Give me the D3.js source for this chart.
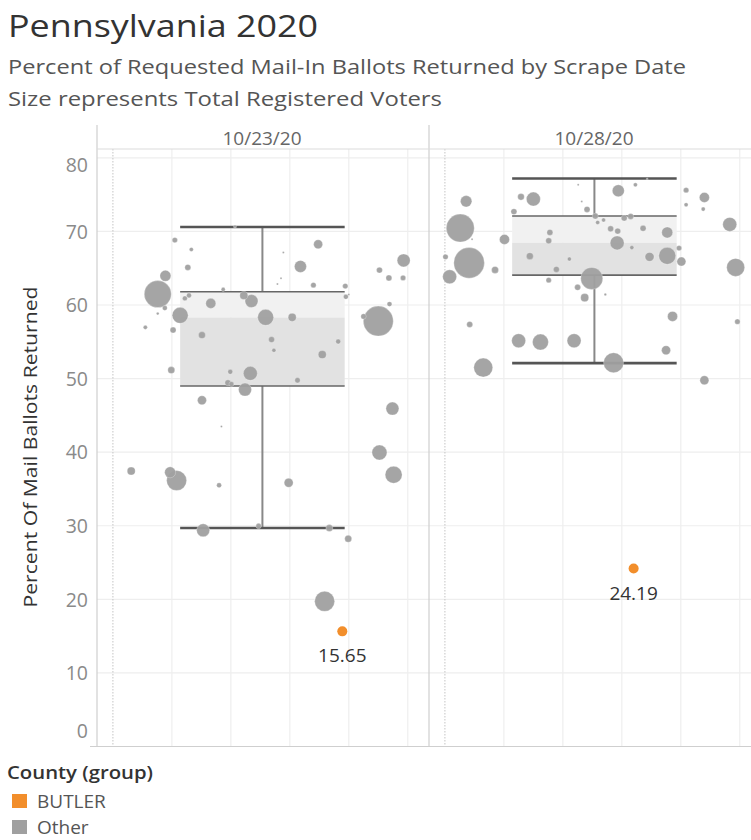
<!DOCTYPE html>
<html><head><meta charset="utf-8">
<script src="https://cdn.jsdelivr.net/npm/d3@7"></script>
<style>body{margin:0;background:#fff}svg{display:block}</style>
</head><body><svg id="c" width="751" height="840"></svg>
<script>
const scrapeDates = ["10/23/20", "10/28/20"];
const yTicks = [0, 10, 20, 30, 40, 50, 60, 70, 80];
const groups = ["BUTLER", "Other"];
const groupColors = ["#f28e2b", "#a0a0a0"];
// [jitter position, percent returned, registered voters (thousands)]
const other1023 = [[0.76,61.48,712],[0.89,63.97,118],[1.05,68.82,28],[1.33,67.55,16],[1.27,65.11,35],[1.14,58.59,250],[1.02,56.59,35],[0.55,56.96,16],[0.76,58.83,7],[0.88,59.58,24],[1.22,60.9,24],[1.29,61.3,24],[1.66,60.22,98],[1.51,55.91,48],[1.87,62.12,16],[2.07,70.65,9],[2.22,61.3,63],[2.35,60.53,165],[2.59,58.32,250],[2.69,55.3,35],[2.73,53.85,16],[2.89,67.12,4],[2.85,63.63,4],[2.79,62.84,4],[3.18,65.24,141],[3.48,68.25,79],[3.04,58.32,63],[3.40,62.7,28],[3.94,62.57,28],[3.95,61.11,24],[4.0,61.44,4],[3.82,55.03,24],[3.55,53.26,63],[3.13,49.77,28],[2.33,50.71,191],[2.24,48.5,165],[1.99,50.92,24],[1.95,49.43,35],[2.01,49.25,24],[1.51,47.05,79],[1.84,43.48,4],[0.99,51.15,48],[4.52,64.74,35],[4.68,63.68,35],[4.92,63.68,28],[4.93,66.06,165],[4.69,60.12,24],[4.50,57.81,879],[4.25,58.45,28],[4.74,45.92,165],[4.52,39.95,220],[4.76,36.93,282],[0.31,37.43,63],[0.97,37.26,118],[1.08,36.14,391],[1.80,35.49,24],[2.98,35.84,79],[1.53,29.38,165],[2.47,29.96,28],[3.67,29.69,48],[3.99,28.23,48],[3.59,19.73,391]];
const other1028 = [[0.36,74.09,127],[0.26,70.45,766],[0.46,68.95,4],[0.01,66.54,28],[0.41,65.73,915],[0.08,63.83,191],[0.85,64.77,48],[1.01,68.91,98],[1.29,74.7,43],[1.50,74.39,191],[1.17,72.69,35],[1.78,69.86,35],[1.76,68.72,35],[1.44,66.64,48],[2.11,66.24,16],[1.89,64.84,35],[1.76,63.38,28],[2.25,62.4,35],[2.37,61.0,63],[2.49,63.61,473],[2.72,61.44,6],[2.26,76.33,4],[2.32,74.05,4],[2.41,72.99,35],[2.94,75.52,141],[3.23,76.33,16],[2.55,72.08,35],[2.69,71.54,16],[2.59,71.22,16],[3.04,71.81,35],[3.15,72.04,35],[2.81,70.35,35],[2.93,70.04,35],[3.36,70.42,35],[3.77,69.86,118],[2.92,68.44,191],[3.17,67.8,16],[3.47,66.54,79],[3.77,66.68,282],[3.97,67.73,28],[4.01,65.9,79],[3.43,77.11,4],[4.09,75.61,28],[4.40,74.62,98],[4.09,73.61,16],[4.38,73.03,16],[4.83,70.95,191],[4.93,65.11,316],[3.86,58.45,98],[4.96,57.74,28],[3.75,53.85,79],[2.86,52.15,391],[4.40,49.77,79],[0.42,57.36,35],[1.25,55.14,191],[1.62,54.96,250],[2.19,55.14,191],[0.65,51.49,352]];
const butler = [[3.89,15.65,98],[3.20,24.19,98]];
// [lower whisker, q1, median, q3, upper whisker]
const boxStats = [[29.7,49.0,58.3,61.8,70.6],[52.1,64.06,68.45,72.1,77.2]];
const boxSpan = [1.14, 3.93];
const gridJitter = [1, 2, 3, 4, 5];

const otherByDate = [other1023, other1028];
const svg = d3.select("#c");
const F = "'Open Sans', 'Noto Sans', sans-serif";

const panelLeft = 97, panelW = 332, plotTop = 149, plotBottom = 746.5, headTop = 125;
const y = d3.scaleLinear().domain([0, 81.2]).range([plotBottom, plotTop]);
const x = d3.scaleLinear().domain([-0.27, 5.36]).range([0, panelW]);
const r = d3.scaleSqrt().domain([0, 1000]).range([0, 16]);

// titles
svg.append("text").attr("x", 8).attr("y", 37).attr("font-family", F).attr("font-size", 31)
  .attr("fill", "#333").attr("textLength", 310).attr("lengthAdjust", "spacingAndGlyphs").text("Pennsylvania 2020");
svg.append("text").attr("x", 8).attr("y", 74).attr("font-family", F).attr("font-size", 20.5)
  .attr("fill", "#555").attr("textLength", 678).attr("lengthAdjust", "spacingAndGlyphs")
  .text("Percent of Requested Mail-In Ballots Returned by Scrape Date");
svg.append("text").attr("x", 8).attr("y", 106).attr("font-family", F).attr("font-size", 20.5)
  .attr("fill", "#555").attr("textLength", 434).attr("lengthAdjust", "spacingAndGlyphs")
  .text("Size represents Total Registered Voters");

scrapeDates.forEach((date, i) => {
  const g = svg.append("g").attr("transform", `translate(${panelLeft + panelW * i},0)`);
  g.append("text").attr("x", panelW / 2 - 1).attr("y", 145).attr("text-anchor", "middle")
    .attr("font-family", F).attr("font-size", 19).attr("fill", "#666").text(date);
  // grid
  g.selectAll(".hg").data(yTicks.filter(v => v > 0)).join("line")
    .attr("x1", 0).attr("x2", panelW).attr("y1", d => y(d)).attr("y2", d => y(d))
    .attr("stroke", "#eeeeee").attr("stroke-width", 1.2);
  g.selectAll(".vg").data(gridJitter).join("line")
    .attr("x1", d => x(d)).attr("x2", d => x(d)).attr("y1", plotTop).attr("y2", plotBottom)
    .attr("stroke", "#eeeeee").attr("stroke-width", 1.2);
  g.append("line").attr("x1", x(0)).attr("x2", x(0)).attr("y1", plotTop).attr("y2", plotBottom)
    .attr("stroke", "#c4c4c4").attr("stroke-dasharray", "1.5,1.5");
  // box
  const [lw, q1, med, q3, uw] = boxStats[i];
  const bx0 = x(boxSpan[0]), bx1 = x(boxSpan[1]), bc = (bx0 + bx1) / 2;
  g.append("rect").attr("x", bx0).attr("width", bx1 - bx0).attr("y", y(q3)).attr("height", y(med) - y(q3)).attr("fill", "#f1f1f1");
  g.append("rect").attr("x", bx0).attr("width", bx1 - bx0).attr("y", y(med)).attr("height", y(q1) - y(med)).attr("fill", "#e2e2e2");
  g.append("line").attr("x1", bc).attr("x2", bc).attr("y1", y(uw)).attr("y2", y(q3)).attr("stroke", "#888").attr("stroke-width", 2);
  g.append("line").attr("x1", bc).attr("x2", bc).attr("y1", y(q1)).attr("y2", y(lw)).attr("stroke", "#888").attr("stroke-width", 2);
  [q1, q3].forEach(v => g.append("line").attr("x1", bx0).attr("x2", bx1).attr("y1", y(v)).attr("y2", y(v)).attr("stroke", "#666").attr("stroke-width", 1.6));
  [lw, uw].forEach(v => g.append("line").attr("x1", bx0).attr("x2", bx1).attr("y1", y(v)).attr("y2", y(v)).attr("stroke", "#555").attr("stroke-width", 2.6));
  // points
  const pts = otherByDate[i].slice().sort((a, b) => b[2] - a[2]);
  g.selectAll(".pt").data(pts).join("circle")
    .attr("cx", d => x(d[0])).attr("cy", d => y(d[1])).attr("r", d => r(d[2]))
    .attr("fill", groupColors[1]).attr("fill-opacity", 0.95)
    .attr("stroke", "#fff").attr("stroke-opacity", 0.45).attr("stroke-width", 0.6);
  const b = butler[i];
  g.append("circle").attr("cx", x(b[0])).attr("cy", y(b[1])).attr("r", r(b[2])).attr("fill", groupColors[0]);
  g.append("text").attr("x", x(b[0])).attr("y", y(b[1]) + 31).attr("text-anchor", "middle")
    .attr("font-family", F).attr("font-size", 19).attr("fill", "#333").text(b[1].toFixed(2));
});

// frame lines
svg.append("line").attr("x1", panelLeft).attr("x2", panelLeft).attr("y1", headTop).attr("y2", plotBottom).attr("stroke", "#cfcfcf").attr("stroke-width", 1.2);
svg.append("line").attr("x1", panelLeft + panelW).attr("x2", panelLeft + panelW).attr("y1", headTop).attr("y2", plotBottom).attr("stroke", "#cfcfcf").attr("stroke-width", 1.2);
svg.append("line").attr("x1", panelLeft).attr("x2", 751).attr("y1", plotTop).attr("y2", plotTop).attr("stroke", "#dcdcdc").attr("stroke-width", 1.2);
svg.append("line").attr("x1", 90).attr("x2", 751).attr("y1", plotBottom).attr("y2", plotBottom).attr("stroke", "#cfcfcf").attr("stroke-width", 1.2);

// y axis
const axis = svg.append("g").attr("transform", `translate(${panelLeft},0)`)
  .call(d3.axisLeft(y).tickValues(yTicks).tickSize(0).tickPadding(9));
axis.select(".domain").remove();
axis.selectAll("text").attr("font-family", F).attr("font-size", 19.5).attr("fill", "#8a8a8a")
  .attr("dy", "0.35em")
  .attr("y", d => Math.min(Math.max(y(d), plotTop + 16), plotBottom - 15.5) - y(d));
svg.append("text").attr("transform", "translate(37,447) rotate(-90)").attr("text-anchor", "middle")
  .attr("font-family", F).attr("font-size", 17.5).attr("fill", "#333").attr("font-weight", 500)
  .attr("textLength", 321).attr("lengthAdjust", "spacingAndGlyphs").text("Percent Of Mail Ballots Returned");

// legend
svg.append("text").attr("x", 7).attr("y", 779).attr("font-family", F).attr("font-size", 18.5)
  .attr("font-weight", 600).attr("fill", "#333").attr("textLength", 146).attr("lengthAdjust", "spacingAndGlyphs").text("County (group)");
groups.forEach((gname, i) => {
  svg.append("rect").attr("x", 12).attr("y", 794 + 26 * i).attr("width", 15).attr("height", 14).attr("fill", groupColors[i]);
  svg.append("text").attr("x", 37).attr("y", 808 + 26 * i).attr("font-family", F).attr("font-size", 19)
    .attr("fill", "#555").text(gname);
});
</script></body></html>
